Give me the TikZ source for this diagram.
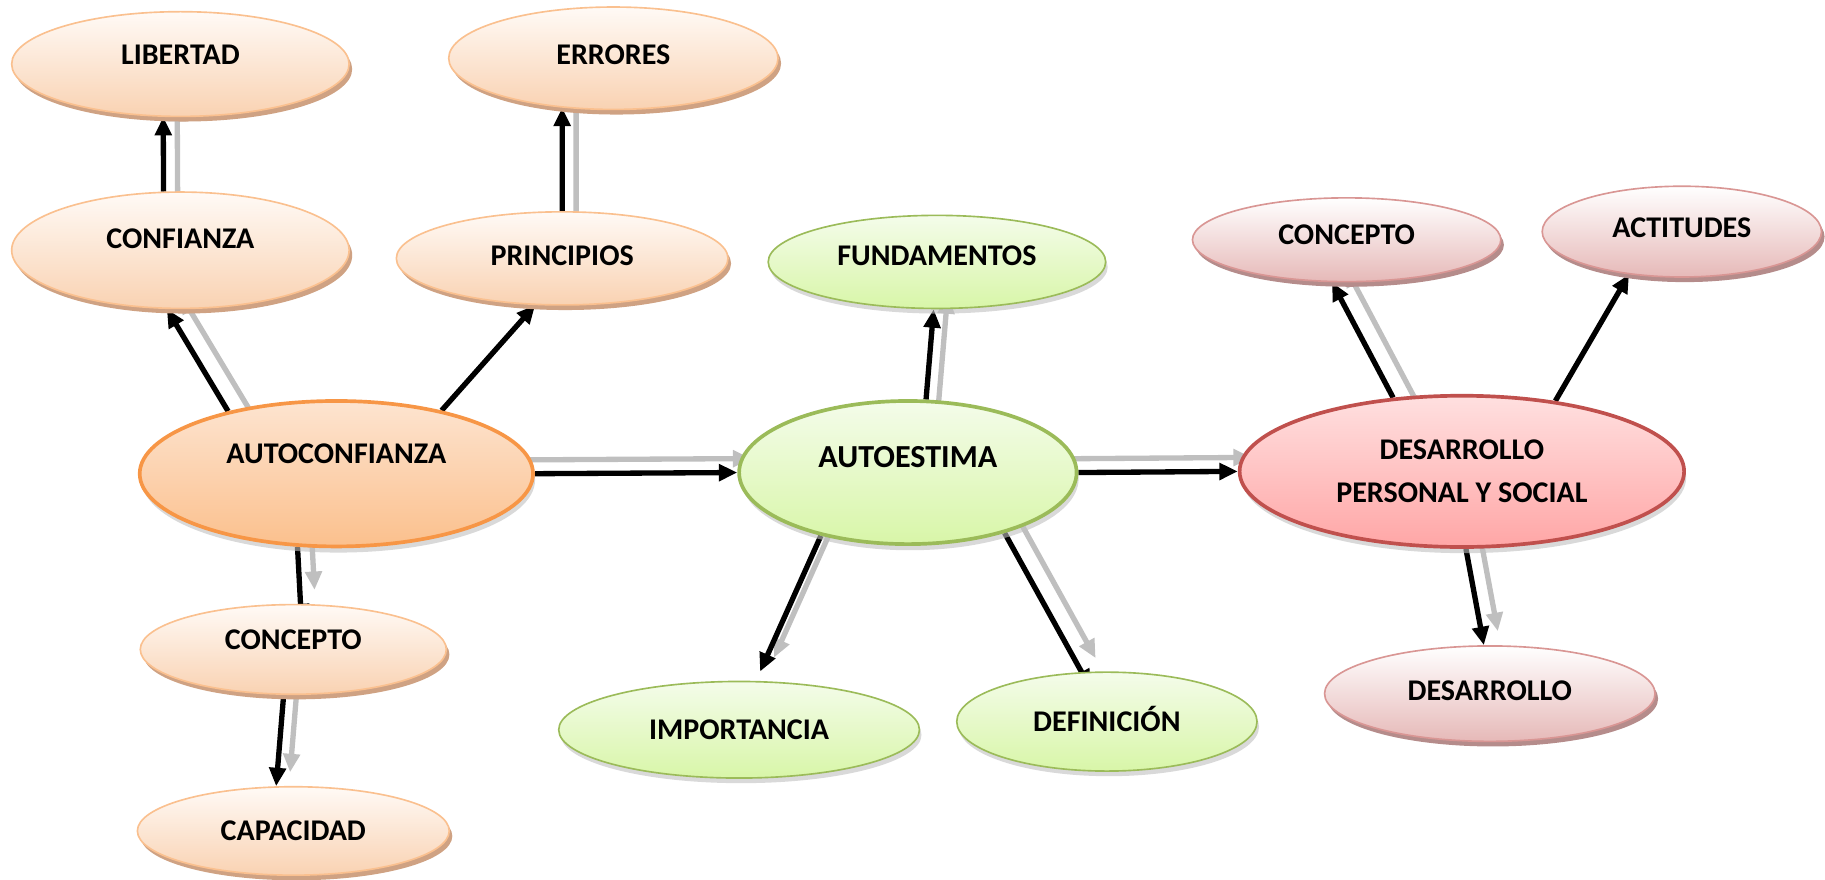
\documentclass[tikz,border=0pt]{standalone}
\usepackage{fontspec}
\setmainfont{Carlito}
\usepackage{tikz}
\usetikzlibrary{positioning}
\usetikzlibrary{arrows.meta}
\usetikzlibrary{shapes.geometric}
\usetikzlibrary{shadows}
\usetikzlibrary{backgrounds}
\usepackage{xcolor}

\definecolor{peachtop}{HTML}{FFFAF6}
\definecolor{peachbot}{HTML}{F9D2B2}
\definecolor{peachline}{HTML}{FAC08F}
\definecolor{peachshadow}{HTML}{CFA283}
\definecolor{orangetop}{HTML}{FDE4D0}
\definecolor{orangebot}{HTML}{FBC08D}
\definecolor{orangeline}{HTML}{F79646}
\definecolor{limetop}{HTML}{F4FCEA}
\definecolor{limebot}{HTML}{D8F6A8}
\definecolor{limeline}{HTML}{9BBB59}
\definecolor{rosetop}{HTML}{FFE0E0}
\definecolor{rosebot}{HTML}{FFA6A6}
\definecolor{roseline}{HTML}{C0504D}
\definecolor{pinktop}{HTML}{FFFFFF}
\definecolor{pinkbot}{HTML}{E6B9B8}
\definecolor{pinkline}{HTML}{D99694}
\definecolor{pinkshadow}{HTML}{B58C8B}
\definecolor{echogray}{HTML}{BFBFBF}

\tikzset{
  idea/.style={ellipse, inner sep=2pt, text depth=0.2cm,
    font=\bfseries\fontsize{14.7}{17}\selectfont},
  peach/.style={idea, draw=peachline, line width=0.8pt,
    top color=peachtop, bottom color=peachbot,
    drop shadow={shadow xshift=1.5pt, shadow yshift=-2.5pt, fill=peachshadow, opacity=1}},
  lime/.style={idea, draw=limeline, line width=0.8pt,
    top color=limetop, bottom color=limebot,
    drop shadow={shadow xshift=1pt, shadow yshift=-2.5pt, fill=black!25, opacity=0.6}},
  pink/.style={idea, draw=pinkline, line width=0.8pt,
    top color=pinktop, bottom color=pinkbot,
    drop shadow={shadow xshift=1.5pt, shadow yshift=-2.5pt, fill=pinkshadow, opacity=1}},
  hub/.style={idea, line width=1.8pt,
    drop shadow={shadow xshift=1pt, shadow yshift=-3pt, fill=black!25, opacity=0.6}},
  link/.style={line width=2.6pt, -{Triangle[length=9pt,width=8pt]}},
  echo/.style={link, echogray, shorten <=-14pt, transform canvas={shift={(12,-12)}}},
  sunk/.style={shorten >=-9pt}
}

\begin{document}
\begin{tikzpicture}[x=0.02cm, y=-0.02cm]
  \useasboundingbox (0,0) rectangle (1568,756);

  % left cluster
  \node(autoconf) [hub, draw=orangeline, top color=orangetop, bottom color=orangebot,
    minimum width=6.76cm, minimum height=2.5cm, text depth=0.68cm] at (289,407) {AUTOCONFIANZA};
  \node(confianza) [peach, minimum width=5.8cm, minimum height=2cm, text depth=0.4cm] at (155,215) {CONFIANZA};
  \node(libertad) [peach, minimum width=5.8cm, minimum height=1.8cm, text depth=0.32cm,
    above of=confianza, node distance=3.2cm] {LIBERTAD};
  \node(principios) [peach, minimum width=5.7cm, minimum height=1.6cm, text depth=0.1cm] at (483,222) {PRINCIPIOS};
  \node(errores) [peach, minimum width=5.66cm, minimum height=1.76cm, text depth=0.12cm,
    above of=principios, node distance=3.44cm, xshift=0.88cm] {ERRORES};
  \node(concepto1) [peach, minimum width=5.26cm, minimum height=1.54cm, text depth=0.32cm,
    below of=autoconf, node distance=3.02cm, xshift=-0.74cm] {CONCEPTO};
  \node(capacidad) [peach, minimum width=5.36cm, minimum height=1.52cm, text depth=0cm,
    below of=concepto1, node distance=3.12cm] {CAPACIDAD};

  % middle cluster
  \node(autoestima) [hub, draw=limeline, top color=limetop, bottom color=limebot,
    minimum width=5.8cm, minimum height=2.46cm, text depth=0.52cm,
    font=\bfseries\fontsize{15.7}{18}\selectfont] at (780,406) {AUTOESTIMA};
  \node(fundamentos) [lime, minimum width=5.8cm, minimum height=1.6cm,
    above of=autoestima, node distance=3.62cm, xshift=0.5cm] {FUNDAMENTOS};
  \node(importancia) [lime, minimum width=6.2cm, minimum height=1.66cm, text depth=0cm] at (635,627) {IMPORTANCIA};
  \node(definicion) [lime, minimum width=5.16cm, minimum height=1.7cm, text depth=0.08cm] at (951,620) {DEFINICIÓN};

  % right cluster
  \node(desarrollops) [hub, draw=roseline, top color=rosetop, bottom color=rosebot,
    minimum width=7.64cm, minimum height=2.6cm, text depth=0cm, align=center,
    font=\bfseries\fontsize{14.7}{21}\selectfont] at (1256,405) {DESARROLLO\\PERSONAL Y SOCIAL};
  \node(concepto2) [pink, minimum width=5.3cm, minimum height=1.44cm, text depth=0.16cm] at (1157,206) {CONCEPTO};
  \node(actitudes) [pink, minimum width=4.8cm, minimum height=1.56cm, text depth=0.12cm] at (1445,199) {ACTITUDES};
  \node(desarrollo) [pink, minimum width=5.68cm, minimum height=1.64cm, text depth=0.12cm,
    below of=desarrollops, node distance=3.82cm, xshift=0.48cm] {DESARROLLO};

  \begin{scope}[on background layer]
    % grey doubles
    \draw[echo] (confianza.106) -- (libertad.252);
    \draw[echo] (principios.90) -- (errores.224);
    \draw[echo] (autoconf.150) -- (confianza.257);
    \draw[echo] (autoconf.east) -- (autoestima.west);
    \draw[echo] (autoconf.242) -- (concepto1.81);
    \draw[echo] (concepto1.258) -- (capacidad.111);
    \draw[echo] (autoestima.76) -- (fundamentos.266);
    \draw[echo, shorten >=5pt] (autoestima.216) -- (importancia.71);
    \draw[echo] (autoestima.328) -- (definicion.117);
    \draw[echo] (autoestima.east) -- (desarrollops.west);
    \draw[echo] (desarrollops.133) -- (concepto2.251);
    \draw[echo] (desarrollops.273) -- (desarrollo.97);
    % black arrows
    \draw[link] (confianza.106) -- (libertad.252);
    \draw[link] (principios.90) -- (errores.224);
    \draw[link] (autoconf.150) -- (confianza.257);
    \draw[link] (autoconf.31) -- (principios.240);
    \draw[link] (autoconf.east) -- (autoestima.west);
    \draw[link, sunk] (autoconf.242) -- (concepto1.81);
    \draw[link] (concepto1.258) -- (capacidad.111);
    \draw[link] (autoestima.76) -- (fundamentos.266);
    \draw[link, shorten >=5pt] (autoestima.216) -- (importancia.71);
    \draw[link, sunk] (autoestima.328) -- (definicion.117);
    \draw[link] (autoestima.east) -- (desarrollops.west);
    \draw[link] (desarrollops.133) -- (concepto2.251);
    \draw[link] (desarrollops.37) -- (actitudes.219);
    \draw[link] (desarrollops.273) -- (desarrollo.97);
  \end{scope}
\end{tikzpicture}
\end{document}
